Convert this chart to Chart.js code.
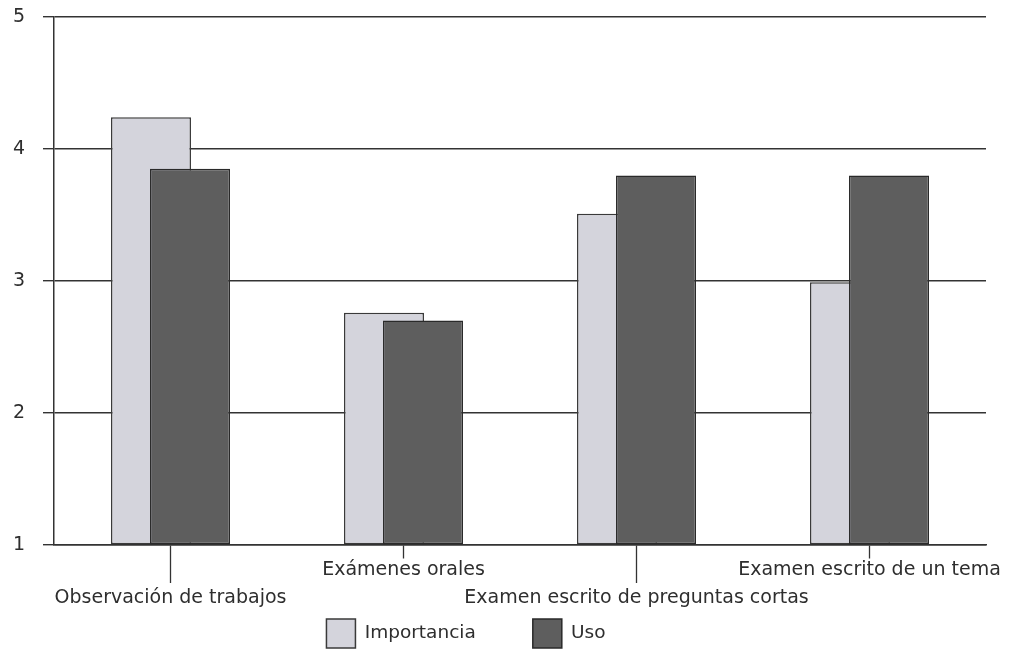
<!DOCTYPE html>
<html>
<head>
<meta charset="utf-8">
<script src="https://cdn.jsdelivr.net/npm/chart.js@4/dist/chart.umd.min.js"></script>
<style>
  html, body { margin: 0; padding: 0; background: #ffffff; }
  #wrap { width: 1012px; height: 651px; position: relative; }
</style>
</head>
<body>
<div id="wrap"><canvas id="c" width="1012" height="651"></canvas></div>
<script>
const categories = ['Observación de trabajos', 'Exámenes orales', 'Examen escrito de preguntas cortas', 'Examen escrito de un tema'];
const seriesNames = ['Importancia', 'Uso'];
const importancia = [4.24, 2.76, 3.51, 2.99];
const uso = [3.85, 2.70, 3.80, 3.80];
const yMin = 1;
const yMax = 5;
const yStep = 1;

const FONT = "'DejaVu Sans', sans-serif";
const INK = '#2e2e2e';
const LINE = '#333333';

// legend placement tweak (horizontal offset and vertical lift)
const legendTweak = {
  id: 'legendTweak',
  afterLayout(chart) {
    const l = chart.legend;
    if (!l) return;
    l.left -= 27; l.right -= 27;
    l.top -= 53; l.bottom -= 53;
  }
};

// draw datasets in index order so the second series overlaps the first
const drawOrder = {
  id: 'drawOrder',
  beforeDatasetsDraw(chart) {
    for (let i = 0; i < chart.data.datasets.length; i++) {
      const meta = chart.getDatasetMeta(i);
      if (chart.isDatasetVisible(i)) meta.controller.draw();
    }
    return false;
  }
};

new Chart(document.getElementById('c'), {
  type: 'bar',
  data: {
    labels: categories,
    datasets: [
      {
        label: seriesNames[0],
        data: importancia,
        base: yMin,
        backgroundColor: '#d4d4dc',
        borderColor: '#3a3a3a',
        borderWidth: 1.5,
        borderSkipped: false,
        categoryPercentage: 0.335,
        barPercentage: 2.05
      },
      {
        label: seriesNames[1],
        data: uso,
        base: yMin,
        backgroundColor: '#5e5e5e',
        borderColor: '#2a2a2a',
        borderWidth: 1.5,
        borderSkipped: false,
        categoryPercentage: 0.335,
        barPercentage: 2.05
      }
    ]
  },
  options: {
    responsive: false,
    animation: false,
    devicePixelRatio: 1,
    layout: { padding: { top: 17, right: 26, left: 0, bottom: -60 } },
    plugins: {
      tooltip: { enabled: false },
      legend: {
        position: 'bottom',
        labels: {
          boxWidth: 29,
          boxHeight: 29,
          padding: 57,
          color: INK,
          font: { family: FONT, size: 18.5 }
        }
      }
    },
    scales: {
      x: {
        afterFit(scale) { scale.height = 70; },
        grid: {
          offset: false,
          drawOnChartArea: false,
          drawTicks: true,
          tickLength: 38,
          tickColor: LINE,
          tickWidth: 1.3,
          tickBorderDash: (c) => (c.index % 2 === 1 ? [13, 200] : [])
        },
        border: { display: true, color: LINE, width: 1.5 },
        ticks: {
          padding: -27,
          color: INK,
          maxRotation: 0,
          autoSkip: false,
          font: { family: FONT, size: 19, lineHeight: 1.47 },
          callback: function (value, index) {
            const t = this.getLabelForValue(value);
            return index % 2 === 0 ? ['', t] : t;
          }
        }
      },
      y: {
        min: yMin,
        max: yMax,
        afterFit(scale) { scale.width = 54; scale.paddingTop = 0; },
        grid: {
          color: LINE,
          lineWidth: 1.4,
          tickLength: 11,
          tickColor: LINE
        },
        border: { display: true, color: LINE, width: 1.5 },
        ticks: {
          stepSize: yStep,
          padding: 18,
          color: INK,
          font: { family: FONT, size: 19 }
        }
      }
    }
  },
  plugins: [legendTweak, drawOrder]
});
</script>
</body>
</html>
